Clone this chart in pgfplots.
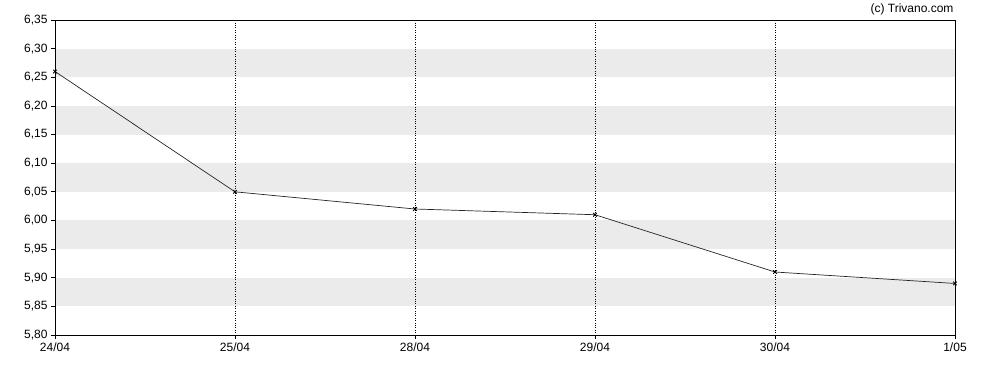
\documentclass[border=0pt]{standalone}
\usepackage{pgfplots}
\pgfplotsset{compat=1.18}
\usepackage{fontspec}
\setmainfont{Liberation Sans}
\definecolor{band}{RGB}{235,235,235}
\begin{document}
\begin{tikzpicture}[x=1pt,y=1pt]
\useasboundingbox (0,0) rectangle (988,370);
\begin{axis}[
  at={(55pt,35pt)}, anchor=south west,
  scale only axis, width=900pt, height=315pt,
  xmin=0, xmax=5, ymin=5.80, ymax=6.35,
  xtick={0,1,2,3,4,5},
  xticklabels={24/04,25/04,28/04,29/04,30/04,1/05},
  ytick={5.80,5.85,5.90,5.95,6.00,6.05,6.10,6.15,6.20,6.25,6.30,6.35},
  /pgf/number format/assume math mode=true,
  yticklabel style={/pgf/number format/.cd, fixed, fixed zerofill, precision=2, use comma},
  tick label style={font=\fontsize{12}{14}\selectfont, text=black},
  tick align=outside, tickwidth=4pt,
  xtick pos=bottom, ytick pos=left,
  major tick style={black, line width=0.8pt},
  axis line style={black, line width=0.8pt},
  xmajorgrids, major grid style={black, dotted, line width=0.8pt},
  axis on top=true,
  clip=false,
]
\addplot[fill=band, draw=none] coordinates {(0,6.25) (5,6.25) (5,6.30) (0,6.30)} -- cycle;
\addplot[fill=band, draw=none] coordinates {(0,6.15) (5,6.15) (5,6.20) (0,6.20)} -- cycle;
\addplot[fill=band, draw=none] coordinates {(0,6.05) (5,6.05) (5,6.10) (0,6.10)} -- cycle;
\addplot[fill=band, draw=none] coordinates {(0,5.95) (5,5.95) (5,6.00) (0,6.00)} -- cycle;
\addplot[fill=band, draw=none] coordinates {(0,5.85) (5,5.85) (5,5.90) (0,5.90)} -- cycle;
\addplot[black!85, line width=0.7pt, mark=x, mark size=2.5pt, mark options={line width=0.9pt, black}] coordinates {
 (0,6.26) (1,6.05) (2,6.02) (3,6.01) (4,5.91) (5,5.89)};
\end{axis}
\node[anchor=east, font=\fontsize{12}{14}\selectfont, text=black] at (957,361) {(c) Trivano.com};
\end{tikzpicture}
\end{document}
